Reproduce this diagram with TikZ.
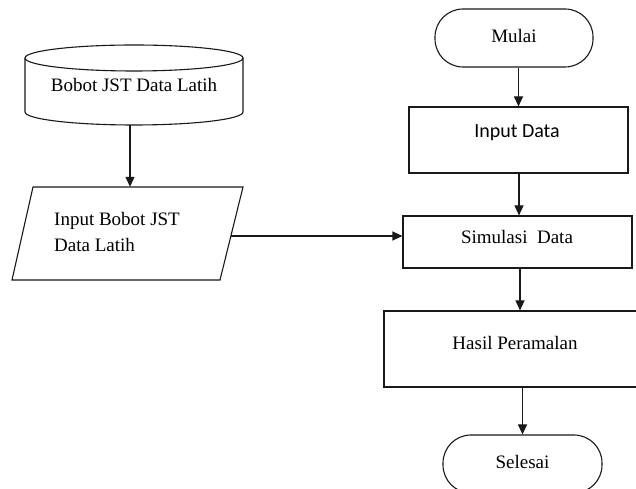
\documentclass[tikz,border=0pt]{standalone}
\usepackage{fontspec}
\setmainfont{Liberation Serif}
\newfontfamily\calfont{Carlito}
\usetikzlibrary{arrows.meta}
\begin{document}
\begin{tikzpicture}[x=1pt,y=1pt,
  ln/.style={draw=black!90,line width=1.1pt},
  arr/.style={ln,-{Triangle[length=10pt,width=9pt]}},
  boxn/.style={ln,rectangle,inner sep=0pt},
  term/.style={ln,rectangle,rounded corners=28pt,inner sep=0pt,minimum width=158pt,minimum height=58pt},
  txt/.style={inner sep=0pt,font=\fontsize{19}{26}\selectfont}]
\useasboundingbox (0,0) rectangle (636,489);
\clip (0,0) rectangle (636,489);
\fill[white] (0,0) rectangle (636,489);
% cylinder
\node[txt,minimum width=218pt,minimum height=80pt] (cyl) at (134,404) {Bobot JST Data Latih};
\draw[ln] (25,431) -- (25,377) arc[start angle=180,end angle=360,x radius=109,y radius=13] -- (243,431);
\draw[ln] (134,431) ellipse[x radius=109,y radius=13];
% parallelogram
\node[inner sep=0pt,minimum width=231pt,minimum height=93pt] (para) at (127.5,255.5) {};
\draw[ln] (33,302) -- (243,302) -- (220,209) -- (12,209) -- cycle;
\node[txt,anchor=west,align=left] (paratext) at (54,257) {Input Bobot JST\\Data Latih};
\coordinate (pr) at (231,253);
% right column
\node[term] (mulai) at (514,451) {};
\node[txt] (mulait) at (514,453) {Mulai};
\node[boxn,minimum width=219pt,minimum height=66pt] (input) at (518.5,349) {};
\node[inner sep=0pt,font=\calfont\fontsize{20}{24}\selectfont] (inputt) at (517,356) {Input Data};
\node[boxn,minimum width=229pt,minimum height=52pt] (sim) at (517.5,247) {};
\node[txt] (simt) at (517,252) {Simulasi\ \ Data};
\node[boxn,minimum width=262pt,minimum height=76pt] (hasil) at (515,140) {};
\node[txt] (hasilt) at (515,146) {Hasil Peramalan};
\node[term,minimum width=159pt] (selesai) at (522.5,25) {};
\node[txt] (selesait) at (522.5,27) {Selesai};
% connectors
\draw[arr] ([xshift=-4pt]cyl.south) -- ([xshift=-4pt]cyl.south |- para.north);
\draw[arr] (pr) -- (pr -| sim.west);
\draw[arr] (mulai.south -| input.center) -- (input.north);
\draw[arr] ([xshift=0.5pt]input.south) -- ([xshift=0.5pt]input.south |- sim.north);
\draw[arr] ([xshift=2.5pt]sim.south) -- ([xshift=2.5pt]sim.south |- hasil.north);
\draw[arr] (hasil.south -| selesai.north) -- (selesai.north);
\end{tikzpicture}
\end{document}
